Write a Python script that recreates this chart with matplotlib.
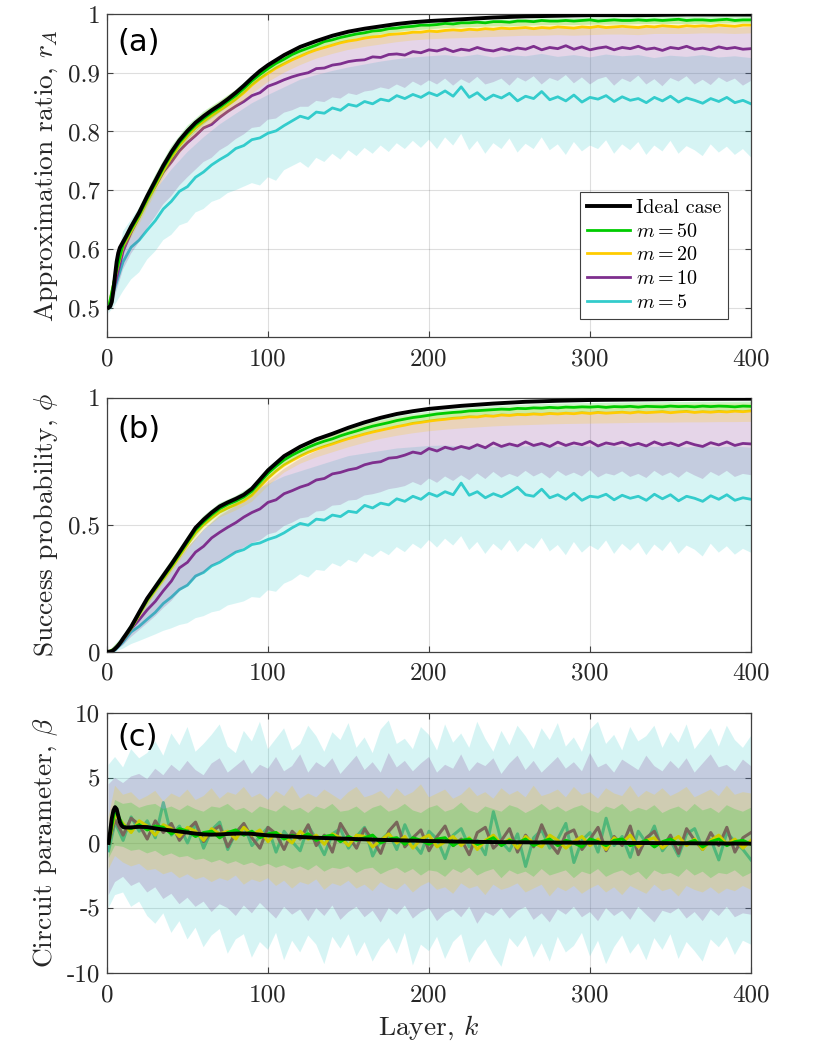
import numpy as np
import matplotlib
matplotlib.use("Agg")
import matplotlib.pyplot as plt
from matplotlib.lines import Line2D

plt.rcParams['font.family'] = 'serif'
plt.rcParams['font.serif'] = ['cmr10']
plt.rcParams['mathtext.fontset'] = 'cm'
plt.rcParams['axes.unicode_minus'] = False

# ---------------- data ----------------
K5 = [1] + list(range(5, 401, 5))          # 81 layer samples for noisy series
K10 = [1] + list(range(10, 401, 10))       # 41 layer samples for smooth band edges
KI = [1, 2, 3, 4, 5, 6, 7, 8, 9, 10, 12, 15, 20, 25, 30, 35, 40, 45, 50, 55, 60, 65, 70, 75,
      80, 85, 90, 95, 100, 110, 120, 130, 140, 150, 160, 170, 180, 190, 200, 220, 240, 260,
      280, 300, 330, 360, 400]

legend_labels = ['Ideal case', '$m = 50$', '$m = 20$', '$m = 10$', '$m = 5$']
xticks = [0, 100, 200, 300, 400]
xtick_labels = ['0', '100', '200', '300', '400']
a_yticks = [0.5, 0.6, 0.7, 0.8, 0.9, 1.0]
a_ytick_labels = ['0.5', '0.6', '0.7', '0.8', '0.9', '1']
b_yticks = [0, 0.5, 1]
b_ytick_labels = ['0', '0.5', '1']
c_yticks = [-10, -5, 0, 5, 10]
c_ytick_labels = ['-10', '-5', '0', '5', '10']

# ---- panel (a): approximation ratio ----
a_ideal = [0.500, 0.502, 0.510, 0.530, 0.555, 0.578, 0.593, 0.602, 0.607, 0.612, 0.622, 0.638,
           0.662, 0.690, 0.716, 0.742, 0.765, 0.785, 0.801, 0.815, 0.826, 0.836, 0.845, 0.855,
           0.866, 0.878, 0.891, 0.903, 0.913, 0.930, 0.944, 0.954, 0.963, 0.970, 0.975, 0.979,
           0.983, 0.986, 0.988, 0.991, 0.994, 0.996, 0.997, 0.998, 0.998, 0.999, 0.999]
a_m50 = [0.500, 0.553, 0.608, 0.634, 0.658, 0.686, 0.712, 0.738, 0.761, 0.781,
         0.797, 0.811, 0.822, 0.832, 0.841, 0.851, 0.861, 0.873, 0.886, 0.897,
         0.907, 0.916, 0.923, 0.931, 0.937, 0.942, 0.947, 0.953, 0.956, 0.960,
         0.963, 0.966, 0.968, 0.971, 0.972, 0.975, 0.976, 0.978, 0.979, 0.981,
         0.981, 0.982, 0.984, 0.983, 0.985, 0.985, 0.986, 0.985, 0.987, 0.987,
         0.986, 0.988, 0.988, 0.987, 0.989, 0.988, 0.988, 0.989, 0.988, 0.989,
         0.990, 0.988, 0.989, 0.990, 0.989, 0.989, 0.990, 0.989, 0.990, 0.989,
         0.990, 0.991, 0.989, 0.990, 0.990, 0.989, 0.990, 0.991, 0.989, 0.990,
         0.990]
a_m20 = [0.500, 0.552, 0.605, 0.630, 0.654, 0.682, 0.707, 0.733, 0.756, 0.776,
         0.792, 0.806, 0.817, 0.827, 0.836, 0.845, 0.855, 0.866, 0.879, 0.890,
         0.899, 0.908, 0.915, 0.922, 0.928, 0.934, 0.939, 0.943, 0.947, 0.951,
         0.954, 0.956, 0.959, 0.961, 0.962, 0.965, 0.966, 0.967, 0.969, 0.969,
         0.971, 0.970, 0.972, 0.973, 0.972, 0.974, 0.973, 0.975, 0.974, 0.976,
         0.975, 0.976, 0.977, 0.975, 0.977, 0.976, 0.978, 0.977, 0.976, 0.978,
         0.977, 0.979, 0.977, 0.978, 0.979, 0.978, 0.977, 0.979, 0.978, 0.980,
         0.979, 0.978, 0.980, 0.979, 0.980, 0.979, 0.981, 0.980, 0.979, 0.981,
         0.981]
a_m10 = [0.500, 0.540, 0.596, 0.628, 0.655, 0.684, 0.707, 0.731, 0.748, 0.767,
         0.781, 0.793, 0.806, 0.812, 0.824, 0.834, 0.843, 0.851, 0.861, 0.866,
         0.877, 0.882, 0.888, 0.893, 0.897, 0.900, 0.907, 0.908, 0.913, 0.915,
         0.919, 0.921, 0.922, 0.927, 0.926, 0.931, 0.932, 0.930, 0.936, 0.934,
         0.939, 0.937, 0.941, 0.936, 0.940, 0.938, 0.943, 0.939, 0.937, 0.941,
         0.938, 0.942, 0.940, 0.945, 0.939, 0.943, 0.941, 0.946, 0.940, 0.944,
         0.939, 0.942, 0.944, 0.939, 0.943, 0.941, 0.945, 0.940, 0.942, 0.938,
         0.943, 0.941, 0.945, 0.940, 0.942, 0.939, 0.944, 0.941, 0.943, 0.940,
         0.941]
a_m5 = [0.500, 0.535, 0.578, 0.603, 0.615, 0.632, 0.648, 0.668, 0.681, 0.698,
        0.706, 0.722, 0.731, 0.743, 0.752, 0.760, 0.771, 0.776, 0.786, 0.789,
        0.797, 0.801, 0.810, 0.818, 0.826, 0.822, 0.833, 0.831, 0.840, 0.836,
        0.846, 0.843, 0.851, 0.847, 0.855, 0.852, 0.861, 0.856, 0.863, 0.858,
        0.866, 0.861, 0.869, 0.860, 0.876, 0.858, 0.866, 0.854, 0.862, 0.857,
        0.865, 0.852, 0.860, 0.856, 0.868, 0.854, 0.859, 0.852, 0.862, 0.850,
        0.858, 0.855, 0.861, 0.851, 0.859, 0.853, 0.856, 0.849, 0.858, 0.852,
        0.860, 0.850, 0.857, 0.853, 0.848, 0.856, 0.851, 0.858, 0.849, 0.853,
        0.847]
a_m5_lo = [0.490, 0.505, 0.528, 0.548, 0.560, 0.582, 0.596, 0.615, 0.624, 0.640,
           0.645, 0.662, 0.668, 0.680, 0.685, 0.695, 0.700, 0.706, 0.712, 0.708,
           0.722, 0.716, 0.734, 0.741, 0.748, 0.738, 0.755, 0.748, 0.762, 0.752,
           0.768, 0.758, 0.772, 0.762, 0.776, 0.765, 0.780, 0.770, 0.784, 0.772,
           0.786, 0.770, 0.790, 0.776, 0.796, 0.768, 0.784, 0.762, 0.780, 0.770,
           0.788, 0.764, 0.779, 0.770, 0.790, 0.768, 0.778, 0.760, 0.782, 0.766,
           0.776, 0.770, 0.785, 0.762, 0.778, 0.768, 0.782, 0.760, 0.776, 0.766,
           0.784, 0.762, 0.775, 0.768, 0.758, 0.778, 0.764, 0.774, 0.760, 0.770,
           0.756]
a_m5_hi = [0.51, 0.63, 0.67, 0.70, 0.735, 0.765, 0.79, 0.812, 0.83, 0.848,
           0.862, 0.875, 0.888, 0.896, 0.903, 0.909, 0.914, 0.919, 0.923, 0.926,
           0.928, 0.930, 0.927, 0.931, 0.926, 0.930, 0.928, 0.932, 0.927, 0.930,
           0.926, 0.931, 0.928, 0.930, 0.925, 0.929, 0.927, 0.930, 0.926, 0.928,
           0.925]
a_m10_lo = [0.495, 0.520, 0.565, 0.592, 0.612, 0.636, 0.655, 0.676, 0.690, 0.708,
            0.722, 0.735, 0.748, 0.755, 0.768, 0.776, 0.787, 0.795, 0.806, 0.808,
            0.820, 0.822, 0.832, 0.836, 0.842, 0.842, 0.852, 0.850, 0.858, 0.856,
            0.865, 0.862, 0.868, 0.870, 0.875, 0.872, 0.880, 0.874, 0.885, 0.878,
            0.887, 0.880, 0.890, 0.878, 0.889, 0.882, 0.893, 0.880, 0.884, 0.890,
            0.878, 0.892, 0.885, 0.894, 0.880, 0.891, 0.886, 0.896, 0.882, 0.892,
            0.880, 0.889, 0.893, 0.878, 0.890, 0.884, 0.895, 0.880, 0.889, 0.877,
            0.891, 0.885, 0.894, 0.880, 0.888, 0.879, 0.892, 0.884, 0.890, 0.878,
            0.886]
a_m10_hi = [0.505, 0.610, 0.665, 0.708, 0.752, 0.788, 0.814, 0.835, 0.857, 0.880,
            0.898, 0.914, 0.927, 0.938, 0.946, 0.953, 0.958, 0.962, 0.966, 0.969,
            0.971, 0.972, 0.973, 0.974, 0.974, 0.975, 0.975, 0.976, 0.976, 0.976,
            0.977, 0.977, 0.976, 0.977, 0.977, 0.978, 0.977, 0.977, 0.978, 0.977,
            0.978]
a_m20_lo = [0.498, 0.595, 0.642, 0.695, 0.744, 0.779, 0.803, 0.822, 0.840, 0.864,
            0.884, 0.900, 0.913, 0.924, 0.932, 0.939, 0.944, 0.948, 0.952, 0.955,
            0.957, 0.958, 0.959, 0.960, 0.961, 0.962, 0.963, 0.963, 0.964, 0.963,
            0.964, 0.965, 0.965, 0.964, 0.966, 0.966, 0.966, 0.967, 0.967, 0.966,
            0.967]
a_m20_hi = [0.502, 0.618, 0.668, 0.722, 0.770, 0.806, 0.832, 0.851, 0.870, 0.893,
            0.913, 0.928, 0.941, 0.950, 0.958, 0.964, 0.969, 0.973, 0.976, 0.979,
            0.981, 0.982, 0.983, 0.984, 0.985, 0.986, 0.987, 0.987, 0.988, 0.988,
            0.988, 0.989, 0.989, 0.989, 0.990, 0.990, 0.990, 0.991, 0.991, 0.991,
            0.991]
a_m50_lo = [0.499, 0.600, 0.648, 0.700, 0.750, 0.786, 0.812, 0.832, 0.852, 0.878,
            0.899, 0.916, 0.930, 0.941, 0.949, 0.956, 0.961, 0.965, 0.969, 0.972,
            0.974, 0.976, 0.977, 0.978, 0.979, 0.979, 0.980, 0.981, 0.981, 0.981,
            0.982, 0.982, 0.982, 0.983, 0.983, 0.983, 0.983, 0.983, 0.984, 0.984,
            0.984]
a_m50_hi = [0.501, 0.617, 0.670, 0.726, 0.775, 0.810, 0.834, 0.852, 0.871, 0.895,
            0.916, 0.932, 0.945, 0.954, 0.962, 0.968, 0.973, 0.977, 0.980, 0.983,
            0.985, 0.987, 0.988, 0.989, 0.990, 0.991, 0.992, 0.993, 0.993, 0.993,
            0.994, 0.994, 0.994, 0.995, 0.995, 0.995, 0.995, 0.995, 0.996, 0.996,
            0.996]

# ---- panel (b): success probability ----
b_ideal = [0.0, 0.0, 0.002, 0.006, 0.012, 0.018, 0.025, 0.033, 0.042, 0.052, 0.070, 0.098,
           0.155, 0.210, 0.255, 0.300, 0.345, 0.392, 0.440, 0.488, 0.520, 0.548, 0.572, 0.588,
           0.602, 0.618, 0.642, 0.678, 0.714, 0.770, 0.807, 0.836, 0.858, 0.882, 0.903, 0.921,
           0.936, 0.947, 0.956, 0.968, 0.977, 0.984, 0.988, 0.991, 0.993, 0.995, 0.996]
b_m50 = [0.0, 0.011, 0.050, 0.094, 0.150, 0.205, 0.249, 0.294, 0.338, 0.385,
         0.432, 0.479, 0.511, 0.539, 0.563, 0.580, 0.593, 0.609, 0.632, 0.667,
         0.702, 0.730, 0.755, 0.774, 0.790, 0.805, 0.818, 0.829, 0.838, 0.850,
         0.860, 0.869, 0.879, 0.888, 0.895, 0.902, 0.910, 0.916, 0.922, 0.926,
         0.931, 0.936, 0.939, 0.942, 0.944, 0.948, 0.949, 0.951, 0.953, 0.955,
         0.954, 0.958, 0.957, 0.960, 0.959, 0.962, 0.960, 0.963, 0.962, 0.964,
         0.963, 0.965, 0.962, 0.965, 0.964, 0.966, 0.963, 0.966, 0.965, 0.964,
         0.967, 0.965, 0.966, 0.964, 0.967, 0.965, 0.967, 0.966, 0.964, 0.967,
         0.966]
b_m20 = [0.0, 0.011, 0.049, 0.092, 0.146, 0.200, 0.243, 0.287, 0.330, 0.376,
         0.422, 0.468, 0.500, 0.527, 0.550, 0.566, 0.579, 0.594, 0.616, 0.650,
         0.683, 0.711, 0.735, 0.753, 0.770, 0.785, 0.797, 0.808, 0.818, 0.829,
         0.839, 0.848, 0.857, 0.865, 0.872, 0.879, 0.886, 0.892, 0.899, 0.903,
         0.908, 0.912, 0.915, 0.919, 0.921, 0.925, 0.924, 0.929, 0.927, 0.932,
         0.930, 0.934, 0.933, 0.936, 0.934, 0.938, 0.936, 0.939, 0.937, 0.941,
         0.938, 0.942, 0.939, 0.941, 0.943, 0.940, 0.944, 0.941, 0.943, 0.945,
         0.941, 0.944, 0.946, 0.942, 0.945, 0.943, 0.946, 0.944, 0.947, 0.945,
         0.948]
b_m10 = [0.0, 0.008, 0.045, 0.090, 0.126, 0.165, 0.198, 0.240, 0.278, 0.330,
         0.352, 0.392, 0.415, 0.448, 0.470, 0.490, 0.508, 0.530, 0.548, 0.562,
         0.588, 0.598, 0.622, 0.634, 0.648, 0.658, 0.676, 0.682, 0.700, 0.706,
         0.716, 0.722, 0.736, 0.744, 0.748, 0.762, 0.765, 0.774, 0.786, 0.780,
         0.800, 0.790, 0.805, 0.797, 0.808, 0.800, 0.815, 0.803, 0.822, 0.808,
         0.818, 0.810, 0.826, 0.812, 0.820, 0.808, 0.825, 0.812, 0.822, 0.815,
         0.828, 0.810, 0.822, 0.816, 0.825, 0.812, 0.820, 0.810, 0.826, 0.814,
         0.822, 0.811, 0.825, 0.815, 0.808, 0.823, 0.814, 0.826, 0.812, 0.820,
         0.818]
b_m5 = [0.0, 0.006, 0.038, 0.078, 0.100, 0.128, 0.155, 0.190, 0.215, 0.245,
        0.262, 0.298, 0.312, 0.338, 0.352, 0.372, 0.392, 0.402, 0.422, 0.428,
        0.442, 0.452, 0.468, 0.488, 0.505, 0.498, 0.522, 0.518, 0.538, 0.532,
        0.553, 0.548, 0.576, 0.566, 0.585, 0.578, 0.602, 0.592, 0.612, 0.600,
        0.624, 0.612, 0.630, 0.618, 0.664, 0.616, 0.630, 0.606, 0.622, 0.610,
        0.628, 0.648, 0.618, 0.612, 0.640, 0.606, 0.618, 0.600, 0.624, 0.596,
        0.612, 0.608, 0.620, 0.598, 0.616, 0.604, 0.612, 0.596, 0.620, 0.602,
        0.618, 0.594, 0.612, 0.604, 0.592, 0.614, 0.600, 0.618, 0.596, 0.606,
        0.600]
b_m5_lo = [0.0, 0.0, 0.012, 0.030, 0.042, 0.055, 0.068, 0.082, 0.092, 0.105,
           0.112, 0.132, 0.140, 0.155, 0.162, 0.182, 0.190, 0.198, 0.215, 0.212,
           0.242, 0.236, 0.268, 0.282, 0.305, 0.292, 0.322, 0.318, 0.348, 0.335,
           0.362, 0.350, 0.388, 0.372, 0.398, 0.380, 0.412, 0.392, 0.425, 0.405,
           0.440, 0.410, 0.445, 0.418, 0.455, 0.400, 0.432, 0.385, 0.425, 0.398,
           0.440, 0.392, 0.428, 0.405, 0.448, 0.395, 0.420, 0.380, 0.432, 0.390,
           0.418, 0.400, 0.438, 0.385, 0.425, 0.398, 0.430, 0.380, 0.422, 0.396,
           0.435, 0.385, 0.418, 0.402, 0.375, 0.425, 0.390, 0.415, 0.382, 0.405,
           0.390]
b_m5_hi = [0.0, 0.065, 0.16, 0.24, 0.33, 0.41, 0.48, 0.54, 0.59, 0.63,
           0.66, 0.69, 0.71, 0.73, 0.75, 0.77, 0.78, 0.79, 0.80, 0.805,
           0.81, 0.812, 0.808, 0.813, 0.806, 0.811, 0.808, 0.814, 0.806, 0.811,
           0.807, 0.812, 0.805, 0.810, 0.806, 0.811, 0.804, 0.809, 0.805, 0.808,
           0.803]
b_m10_lo = [0.0, 0.002, 0.025, 0.058, 0.085, 0.112, 0.140, 0.172, 0.200, 0.238,
            0.258, 0.290, 0.310, 0.338, 0.355, 0.375, 0.392, 0.410, 0.428, 0.438,
            0.462, 0.470, 0.495, 0.508, 0.525, 0.530, 0.552, 0.555, 0.575, 0.578,
            0.595, 0.598, 0.615, 0.620, 0.628, 0.640, 0.645, 0.652, 0.668, 0.655,
            0.682, 0.665, 0.690, 0.672, 0.695, 0.675, 0.702, 0.680, 0.708, 0.685,
            0.700, 0.688, 0.712, 0.690, 0.705, 0.682, 0.712, 0.692, 0.705, 0.690,
            0.715, 0.686, 0.702, 0.694, 0.710, 0.688, 0.700, 0.684, 0.712, 0.692,
            0.706, 0.685, 0.710, 0.694, 0.680, 0.708, 0.692, 0.712, 0.688, 0.700,
            0.695]
b_m10_hi = [0.0, 0.05, 0.145, 0.235, 0.325, 0.41, 0.48, 0.535, 0.575, 0.615,
            0.67, 0.72, 0.76, 0.79, 0.815, 0.84, 0.86, 0.875, 0.89, 0.90,
            0.91, 0.918, 0.925, 0.93, 0.935, 0.938, 0.94, 0.942, 0.944, 0.945,
            0.946, 0.947, 0.947, 0.948, 0.948, 0.949, 0.949, 0.949, 0.95, 0.95,
            0.95]
b_m20_lo = [0.0, 0.04, 0.13, 0.225, 0.31, 0.40, 0.478, 0.528, 0.556, 0.59,
            0.652, 0.705, 0.74, 0.765, 0.785, 0.805, 0.822, 0.838, 0.85, 0.86,
            0.868, 0.874, 0.879, 0.883, 0.887, 0.89, 0.892, 0.894, 0.896, 0.897,
            0.898, 0.899, 0.90, 0.901, 0.902, 0.902, 0.903, 0.903, 0.904, 0.904,
            0.905]
b_m20_hi = [0.0, 0.06, 0.165, 0.26, 0.352, 0.445, 0.523, 0.574, 0.603, 0.644,
            0.715, 0.765, 0.80, 0.828, 0.852, 0.873, 0.892, 0.908, 0.92, 0.93,
            0.938, 0.945, 0.95, 0.955, 0.959, 0.962, 0.964, 0.966, 0.968, 0.969,
            0.97, 0.971, 0.972, 0.973, 0.974, 0.975, 0.975, 0.976, 0.976, 0.977,
            0.977]
b_m50_lo = [0.0, 0.043, 0.138, 0.232, 0.32, 0.413, 0.49, 0.543, 0.575, 0.612,
            0.68, 0.733, 0.77, 0.80, 0.82, 0.842, 0.861, 0.877, 0.891, 0.902,
            0.911, 0.919, 0.925, 0.930, 0.934, 0.937, 0.939, 0.941, 0.943, 0.944,
            0.945, 0.946, 0.947, 0.947, 0.948, 0.948, 0.949, 0.949, 0.949, 0.95,
            0.95]
b_m50_hi = [0.0, 0.058, 0.165, 0.27, 0.36, 0.455, 0.535, 0.585, 0.613, 0.652,
            0.725, 0.777, 0.81, 0.838, 0.858, 0.878, 0.897, 0.913, 0.927, 0.937,
            0.945, 0.952, 0.958, 0.963, 0.967, 0.97, 0.973, 0.975, 0.977, 0.978,
            0.979, 0.98, 0.981, 0.982, 0.982, 0.983, 0.983, 0.984, 0.984, 0.984,
            0.985]

# ---- panel (c): circuit parameter beta ----
c_ideal = [0.0, 0.9, 1.9, 2.5, 2.75, 2.6, 2.1, 1.6, 1.35, 1.22, 1.18, 1.2, 1.24, 1.22, 1.12,
           1.03, 0.96, 0.88, 0.80, 0.72, 0.66, 0.64, 0.66, 0.69, 0.72, 0.73, 0.70, 0.64, 0.58,
           0.52, 0.46, 0.40, 0.36, 0.32, 0.28, 0.24, 0.21, 0.18, 0.15, 0.10, 0.07, 0.05, 0.03,
           0.02, 0.0, -0.02, -0.05]
c_m50 = [0.0, 2.6, 1.3, 1.1, 1.4, 1.0, 1.3, 1.2, 0.7, 1.1,
         0.9, 0.5, 0.8, 0.9, 0.4, 0.8, 1.0, 0.6, 0.9, 0.4,
         0.7, 0.8, 0.3, 0.6, 0.4, 0.7, 0.2, 0.5, 0.6, 0.1,
         0.5, 0.2, 0.4, 0.6, 0.0, 0.3, 0.4, -0.1, 0.4, 0.2,
         -0.1, 0.3, 0.4, -0.2, 0.2, 0.3, -0.1, 0.1, 0.4, -0.2,
         0.2, 0.0, 0.3, -0.2, 0.1, 0.3, -0.2, 0.2, 0.0, -0.3,
         0.3, 0.1, -0.2, 0.2, 0.3, -0.2, 0.0, 0.2, -0.3, 0.1,
         0.3, -0.1, 0.0, 0.2, -0.3, 0.1, 0.3, -0.2, 0.1, 0.2,
         -0.1]
c_m20 = [0.0, 2.2, 1.5, 0.8, 1.7, 1.3, 0.6, 1.4, 1.1, 0.5,
         1.2, 0.9, 0.2, 1.1, 0.7, 0.9, 0.3, 1.2, 0.6, 1.0,
         0.1, 0.8, 0.5, 0.0, 0.9, 0.3, 0.6, -0.1, 0.7, 0.4,
         -0.2, 0.6, 0.5, -0.3, 0.2, 0.7, 0.0, 0.5, -0.4, 0.3,
         0.6, -0.3, 0.1, 0.5, -0.2, 0.4, -0.5, 0.2, 0.6, -0.1,
         0.3, -0.4, 0.5, 0.0, -0.3, 0.6, 0.2, -0.4, 0.1, 0.5,
         -0.2, 0.3, -0.5, 0.4, 0.0, 0.6, -0.3, 0.2, 0.4, -0.4,
         0.1, 0.5, -0.2, 0.3, -0.5, 0.2, 0.6, -0.1, 0.3, -0.4,
         0.2]
c_m10 = [0.0, 1.8, 0.6, 1.9, 1.4, 0.3, 1.7, 0.8, 1.5, 0.2,
         1.0, 1.6, 0.1, 0.9, 1.3, -0.3, 0.8, 1.5, 0.4, -0.4,
         1.2, 0.7, -0.5, 0.9, 0.3, 1.4, -0.2, 0.6, -0.7, 1.5,
         0.5, -0.4, 1.1, 0.2, -0.8, 0.9, 1.6, -0.3, 0.4, 1.0,
         -0.6, 0.5, 1.3, -0.2, 0.3, -0.9, 0.8, 1.2, -0.4, 0.2,
         1.1, -0.7, 0.6, -0.3, 1.4, 0.0, -0.8, 0.7, 1.0, -0.5,
         0.3, 1.2, -0.6, 0.5, -0.2, 1.3, -0.9, 0.4, 0.9, -0.4,
         0.6, -0.8, 1.1, 0.2, -0.5, 0.8, -0.2, 1.2, -0.7, 0.4,
         0.8]
c_m5 = [-0.6, 1.6, 0.2, 2.0, 0.9, 1.7, 0.4, 3.1, 0.6, 1.3,
        0.0, 1.5, -0.4, 1.0, 1.6, -0.5, 0.8, 1.4, -0.2, 0.5,
        1.2, -0.7, 0.9, 0.1, -0.6, 1.3, 0.3, -0.9, 0.7, 1.1,
        -0.4, 0.5, 1.2, -1.0, 0.2, 0.8, -0.5, 1.4, 0.0, -0.8,
        0.9, 0.3, -1.2, 0.6, 1.1, -0.3, 0.2, -0.9, 2.4, 0.1,
        -0.6, 0.7, -1.8, 0.4, 1.0, -0.4, 0.3, 1.5, -1.5, 0.2,
        0.8, -0.7, 1.9, -0.2, 0.5, -1.1, 0.9, 0.0, 1.3, -0.6,
        0.2, -1.0, 0.7, 1.1, -0.4, 0.3, -1.3, 0.8, 0.1, -0.5,
        -1.3]
c_m5_hi = [6.0, 6.6, 5.8, 7.2, 6.5, 6.9, 7.8, 6.7, 8.4, 7.5,
           8.9, 7.0, 7.6, 8.3, 9.1, 7.4, 6.9, 8.6, 7.8, 9.3,
           7.2, 8.0, 8.8, 7.1, 7.6, 9.0, 8.2, 7.0, 8.5, 7.9,
           9.2, 7.3, 8.1, 6.9, 8.7, 9.4, 7.6, 8.0, 7.2, 8.9,
           8.3, 7.1, 9.1, 7.7, 8.4, 7.3, 9.3, 8.0, 7.0, 8.6,
           7.5, 9.0, 8.2, 7.2, 8.8, 7.9, 9.2, 7.4, 8.1, 7.0,
           8.7, 9.3, 7.6, 8.3, 7.1, 8.9, 7.8, 8.2, 9.0, 7.3,
           8.5, 7.7, 9.1, 7.2, 8.0, 8.8, 7.4, 9.0, 7.9, 7.3,
           8.2]
c_m5_lo = [-5.0, -4.0, -3.8, -4.9, -4.5, -5.6, -6.2, -5.4, -6.9, -6.0,
           -7.4, -6.5, -8.0, -7.1, -6.6, -8.5, -7.4, -7.0, -8.8, -7.6,
           -8.2, -6.9, -9.0, -7.5, -8.4, -7.1, -7.8, -9.3, -7.2, -8.1,
           -7.0, -8.7, -7.6, -9.1, -8.0, -7.3, -8.5, -6.9, -9.4, -7.8,
           -8.3, -7.2, -8.9, -7.6, -7.0, -9.2, -8.1, -7.4, -8.6, -9.5,
           -7.3, -8.0, -7.1, -8.8, -7.7, -9.1, -7.2, -8.4, -7.9, -6.9,
           -8.7, -7.5, -9.3, -8.0, -7.1, -8.5, -7.7, -9.0, -7.3, -8.2,
           -7.0, -8.9, -7.6, -8.3, -9.1, -7.4, -8.0, -7.2, -8.6, -7.5,
           -7.8]
c_m10_hi = [4.5, 5.0, 4.6, 5.1, 5.3, 4.9, 5.7, 5.2, 6.0, 5.5,
            6.3, 5.6, 5.2, 6.1, 6.5, 5.4, 5.9, 6.4, 5.3, 6.0,
            5.7, 6.6, 5.5, 5.9, 6.8, 5.4, 6.2, 5.8, 6.5, 5.3,
            6.0, 6.7, 5.6, 6.2, 5.4, 6.9, 5.8, 6.3, 5.5, 6.1,
            6.6, 5.4, 6.0, 5.7, 6.8, 5.5, 6.2, 5.9, 6.5, 5.3,
            6.1, 6.7, 5.6, 6.3, 5.4, 6.0, 6.6, 5.7, 6.2, 5.5,
            6.9, 5.8, 6.1, 5.4, 6.4, 6.0, 5.6, 6.7, 5.9, 5.5,
            6.3, 5.7, 6.5, 5.4, 6.1, 6.8, 5.8, 6.0, 5.5, 6.4,
            5.9]
c_m10_lo = [-4.0, -3.0, -2.6, -3.3, -3.0, -3.8, -3.4, -4.3, -3.9, -4.7,
            -4.2, -4.9, -4.5, -5.3, -4.7, -5.0, -5.6, -4.8, -5.4, -4.6,
            -5.2, -5.8, -4.9, -5.5, -5.1, -6.0, -5.0, -5.6, -4.8, -5.9,
            -5.3, -4.9, -5.7, -5.2, -6.1, -5.0, -5.5, -4.8, -5.8, -5.3,
            -5.0, -6.0, -5.4, -5.1, -5.7, -4.9, -6.2, -5.3, -5.6, -5.0,
            -5.8, -5.2, -4.9, -5.9, -5.4, -6.1, -5.1, -5.5, -4.9, -5.7,
            -5.3, -6.0, -5.0, -5.6, -5.2, -5.9, -4.9, -5.5, -6.1, -5.2,
            -5.4, -5.0, -5.8, -5.3, -6.0, -5.1, -5.6, -4.9, -5.7, -5.4,
            -5.5]
c_m20_hi = [2.0, 4.4, 3.7, 3.9, 3.3, 3.6, 4.0, 3.2, 3.8, 3.5,
            4.1, 3.3, 3.6, 4.2, 3.4, 3.9, 3.7, 4.3, 3.5, 3.8,
            3.3, 4.0, 3.6, 4.4, 3.4, 3.8, 3.5, 4.1, 3.7, 3.3,
            3.9, 4.3, 3.5, 3.7, 4.0, 3.4, 4.2, 3.6, 3.9, 4.5,
            3.5, 3.8, 4.1, 3.4, 3.7, 4.3, 3.6, 3.9, 3.4, 4.2,
            3.7, 4.0, 3.5, 4.4, 3.6, 3.8, 4.1, 3.5, 4.3, 3.7,
            3.9, 3.4, 4.2, 3.8, 3.6, 4.4, 3.5, 4.0, 3.7, 4.2,
            3.6, 3.9, 4.3, 3.5, 3.8, 4.1, 3.6, 4.4, 3.7, 3.9,
            3.8]
c_m20_lo = [-2.0, -1.0, -1.5, -1.8, -1.6, -2.1, -2.0, -2.4, -2.2, -2.7,
            -2.4, -2.8, -2.6, -3.0, -2.7, -2.9, -2.5, -3.2, -2.8, -3.0,
            -2.7, -3.3, -2.9, -3.5, -3.0, -3.2, -2.8, -3.6, -3.1, -3.3,
            -2.9, -3.5, -3.2, -3.7, -3.0, -3.4, -3.6, -3.1, -3.8, -3.3,
            -3.0, -3.6, -3.4, -3.9, -3.1, -3.5, -3.3, -4.0, -3.2, -3.6,
            -3.4, -3.1, -3.8, -3.5, -3.2, -4.1, -3.4, -3.7, -3.3, -3.9,
            -3.5, -3.2, -3.8, -3.4, -4.0, -3.3, -3.6, -3.9, -3.2, -3.7,
            -3.5, -4.1, -3.3, -3.6, -3.8, -3.4, -3.9, -3.5, -3.7, -3.3,
            -3.6]
c_m50_hi = [1.2, 3.3, 3.0, 3.1, 2.7, 2.9, 3.0, 2.6, 2.8, 2.5,
            2.9, 2.6, 2.4, 2.8, 2.7, 3.0, 2.5, 2.7, 2.3, 2.8,
            2.6, 2.4, 2.9, 2.5, 2.7, 2.3, 2.8, 2.6, 3.0, 2.4,
            2.5, 2.8, 2.3, 2.7, 2.9, 2.4, 2.6, 3.0, 2.5, 2.3,
            2.7, 2.9, 2.4, 2.6, 3.1, 2.5, 2.3, 2.8, 2.6, 2.4,
            2.9, 2.7, 2.3, 2.6, 3.0, 2.5, 2.8, 2.4, 2.7, 2.9,
            2.5, 2.3, 2.8, 2.6, 3.0, 2.4, 2.7, 2.5, 2.9, 2.3,
            2.6, 2.8, 2.4, 3.0, 2.5, 2.7, 2.3, 2.9, 2.6, 2.4,
            2.7]
c_m50_lo = [-1.2, -0.2, -0.3, -0.6, -0.5, -0.8, -0.6, -1.0, -0.8, -1.1,
            -1.0, -1.3, -1.2, -1.5, -1.3, -1.6, -1.4, -1.7, -1.5, -1.8,
            -1.6, -1.9, -1.7, -2.0, -1.8, -2.1, -1.7, -2.2, -1.9, -2.0,
            -1.8, -2.3, -2.0, -1.9, -2.4, -2.1, -1.9, -2.3, -2.0, -2.5,
            -2.1, -2.2, -2.6, -2.0, -2.3, -1.9, -2.5, -2.2, -2.0, -2.7,
            -2.1, -2.4, -2.2, -2.6, -2.0, -2.5, -2.3, -2.1, -2.7, -2.2,
            -2.4, -2.0, -2.6, -2.3, -2.1, -2.5, -2.2, -2.8, -2.1, -2.4,
            -2.3, -2.6, -2.0, -2.5, -2.2, -2.7, -2.3, -2.4, -2.1, -2.6,
            -2.3]

# ---------------- style ----------------
C_IDEAL = 'black'
C50 = (0.0, 0.8, 0.0)
C20 = (1.0, 0.8, 0.0)
C10 = (0.494, 0.184, 0.556)
C5 = (0.2, 0.8, 0.8)
AXC = '#404040'
TICK_FS = 18
LABEL_FS = 19.8

fig = plt.figure(figsize=(8.3, 10.53), dpi=100)
ax_a = fig.add_axes([0.1289, 0.6800, 0.7759, 0.3067])
ax_b = fig.add_axes([0.1289, 0.3811, 0.7759, 0.2412])
ax_c = fig.add_axes([0.1289, 0.0757, 0.7759, 0.2475])


def band(ax, k_lo, lo, k_hi, hi, color):
    xs = np.concatenate([np.asarray(k_lo, float), np.asarray(k_hi, float)[::-1]])
    ys = np.concatenate([np.asarray(lo, float), np.asarray(hi, float)[::-1]])
    ax.fill(xs, ys, color=color, alpha=0.2, linewidth=0, zorder=2)


def panel(ax, series, ideal, lw=2.0):
    for mean, klo, lo, khi, hi, col in series:
        ax.plot(K5, mean, color=col, lw=lw, zorder=2)
        band(ax, klo, lo, khi, hi, col)
    ax.plot(KI, ideal, color=C_IDEAL, lw=2.8, zorder=3)


panel(ax_a, [
    (a_m5, K5, a_m5_lo, K10, a_m5_hi, C5),
    (a_m10, K5, a_m10_lo, K10, a_m10_hi, C10),
    (a_m20, K10, a_m20_lo, K10, a_m20_hi, C20),
    (a_m50, K10, a_m50_lo, K10, a_m50_hi, C50),
], a_ideal)
panel(ax_b, [
    (b_m5, K5, b_m5_lo, K10, b_m5_hi, C5),
    (b_m10, K5, b_m10_lo, K10, b_m10_hi, C10),
    (b_m20, K10, b_m20_lo, K10, b_m20_hi, C20),
    (b_m50, K10, b_m50_lo, K10, b_m50_hi, C50),
], b_ideal)
panel(ax_c, [
    (c_m5, K5, c_m5_lo, K5, c_m5_hi, C5),
    (c_m10, K5, c_m10_lo, K5, c_m10_hi, C10),
    (c_m20, K5, c_m20_lo, K5, c_m20_hi, C20),
    (c_m50, K5, c_m50_lo, K5, c_m50_hi, C50),
], c_ideal, lw=2.2)

for ax, yt, ytl, ylim in [(ax_a, a_yticks, a_ytick_labels, (0.45, 1.0)),
                          (ax_b, b_yticks, b_ytick_labels, (0.0, 1.0)),
                          (ax_c, c_yticks, c_ytick_labels, (-10, 10))]:
    ax.set_xlim(0, 400)
    ax.set_ylim(*ylim)
    ax.set_xticks(xticks)
    ax.set_xticklabels(xtick_labels)
    ax.set_yticks(yt)
    ax.set_yticklabels(ytl)
    ax.tick_params(direction='in', top=True, right=True, length=4, width=0.8,
                   color=AXC, labelsize=TICK_FS, labelcolor='#262626')
    ax.tick_params(axis='x', pad=8)
    ax.tick_params(axis='y', pad=5)
    ax.grid(True, color=(0.15, 0.15, 0.15), alpha=0.15, lw=0.8)
    ax.set_axisbelow(True)
    for s in ax.spines.values():
        s.set_color(AXC)
        s.set_linewidth(0.9)
    ax.set_facecolor('white')

ax_a.set_ylabel('Approximation ratio, $r_A$', fontsize=LABEL_FS, color='#262626')
ax_b.set_ylabel('Success probability, $\\phi$', fontsize=LABEL_FS, color='#262626')
ax_c.set_ylabel('Circuit parameter, $\\beta$', fontsize=LABEL_FS, color='#262626')
for ax in (ax_a, ax_b, ax_c):
    ax.yaxis.set_label_coords(-0.073, 0.5)
ax_c.set_xlabel('Layer, $k$', fontsize=LABEL_FS, color='#262626')
ax_c.xaxis.set_label_coords(0.5, -0.155)

for ax, lab, yy in [(ax_a, '(a)', 0.885), (ax_b, '(b)', 0.843), (ax_c, '(c)', 0.872)]:
    ax.text(0.0165, yy, lab, transform=ax.transAxes, fontsize=22,
            family='DejaVu Sans', va='baseline', ha='left', zorder=5)

leg_handles = [Line2D([], [], color=C_IDEAL, lw=2.8),
               Line2D([], [], color=C50, lw=2.0),
               Line2D([], [], color=C20, lw=2.0),
               Line2D([], [], color=C10, lw=2.0),
               Line2D([], [], color=C5, lw=2.0)]
leg = ax_a.legend(leg_handles, legend_labels, loc='lower right',
                  bbox_to_anchor=(0.9643, 0.0557), borderaxespad=0.0,
                  fontsize=14.5, frameon=True, fancybox=False, framealpha=1.0,
                  edgecolor=AXC, handlelength=2.1, handletextpad=0.3,
                  labelspacing=0.28, borderpad=0.35)
leg.get_frame().set_linewidth(0.8)
leg.set_zorder(10)

fig.savefig('out.png', dpi=100)
